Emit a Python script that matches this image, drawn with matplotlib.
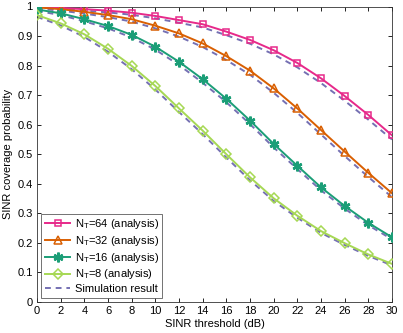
import matplotlib
matplotlib.use("Agg")
import matplotlib.pyplot as plt
from matplotlib.lines import Line2D

plt.rcParams['font.family'] = ['Liberation Sans', 'DejaVu Sans']

x = [0, 2, 4, 6, 8, 10, 12, 14, 16, 18, 20, 22, 24, 26, 28, 30]

nt64 = [0.999, 0.995, 0.991, 0.986, 0.979, 0.968, 0.954, 0.940, 0.915, 0.887, 0.852, 0.809, 0.757, 0.697, 0.633, 0.564]
nt32 = [0.997, 0.991, 0.982, 0.971, 0.957, 0.935, 0.909, 0.875, 0.832, 0.783, 0.723, 0.655, 0.582, 0.509, 0.437, 0.368]
nt16 = [0.990, 0.977, 0.957, 0.934, 0.904, 0.864, 0.813, 0.754, 0.688, 0.614, 0.535, 0.461, 0.388, 0.325, 0.268, 0.219]
nt8 = [0.971, 0.943, 0.906, 0.857, 0.799, 0.731, 0.655, 0.580, 0.500, 0.422, 0.351, 0.292, 0.240, 0.199, 0.161, 0.129]

sim64 = [0.995, 0.991, 0.986, 0.980, 0.972, 0.960, 0.945, 0.929, 0.903, 0.874, 0.838, 0.794, 0.741, 0.681, 0.617, 0.550]
sim32 = [0.993, 0.986, 0.976, 0.964, 0.949, 0.926, 0.898, 0.863, 0.819, 0.769, 0.708, 0.640, 0.567, 0.494, 0.423, 0.355]
sim16 = [0.985, 0.971, 0.950, 0.926, 0.895, 0.854, 0.802, 0.742, 0.676, 0.602, 0.523, 0.450, 0.378, 0.316, 0.260, 0.212]
sim8 = [0.965, 0.936, 0.897, 0.847, 0.788, 0.719, 0.643, 0.568, 0.489, 0.412, 0.342, 0.285, 0.234, 0.193, 0.156, 0.124]

labels = [r'N$_\mathregular{T}$=64 (analysis)', r'N$_\mathregular{T}$=32 (analysis)',
          r'N$_\mathregular{T}$=16 (analysis)', r'N$_\mathregular{T}$=8 (analysis)', 'Simulation result']

colors = ['#e7298a', '#d95f02', '#1b9e77', '#a6d854']
markers = ['s', '^', (6, 2, 0), 'D']
msizes = [5, 6, 7, 5]
sim_color = '#7570b3'

fig = plt.figure(figsize=(4.03, 3.33), dpi=100)
ax = fig.add_axes([37/403, 1 - 302/333, (392-37)/403, (302-6.5)/333])

for sim in [sim64, sim32, sim16, sim8]:
    ax.plot(x, sim, '--', color=sim_color, lw=1.4, dashes=(3, 2.5), zorder=2)

handles = []
for data, c, m, ms, lab in zip([nt64, nt32, nt16, nt8], colors, markers, msizes, labels):
    mew = 1.8 if isinstance(m, tuple) else 1.1
    h, = ax.plot(x, data, '-', color=c, lw=1.4, marker=m, ms=ms, mfc='none', mec=c, mew=mew, label=lab, zorder=3)
    handles.append(h)
handles.append(Line2D([], [], ls='--', color=sim_color, lw=1.4, dashes=(3, 2.5)))

ax.set_xlim(0, 30)
ax.set_ylim(0, 1)
ax.set_xticks(range(0, 31, 2))
ax.set_yticks([i / 10 for i in range(11)])
ax.set_yticklabels(['0'] + [f'0.{i}' for i in range(1, 10)] + ['1'])
ax.tick_params(direction='in', top=True, right=True, labelsize=8, length=3, width=0.6, pad=3)
for s in ax.spines.values():
    s.set_linewidth(0.6)
    s.set_color('#333333')
ax.set_xlabel('SINR threshold (dB)', fontsize=8, labelpad=2)
ax.set_ylabel('SINR coverage probability', fontsize=8, labelpad=3)

leg = ax.legend(handles, labels, loc='lower left', fontsize=8, frameon=True, fancybox=False,
                edgecolor='#333333', handlelength=2.3, handletextpad=0.4, borderpad=0.3,
                labelspacing=0.25, borderaxespad=0.4)
leg.get_frame().set_linewidth(0.6)

fig.savefig('out.png', dpi=100)
